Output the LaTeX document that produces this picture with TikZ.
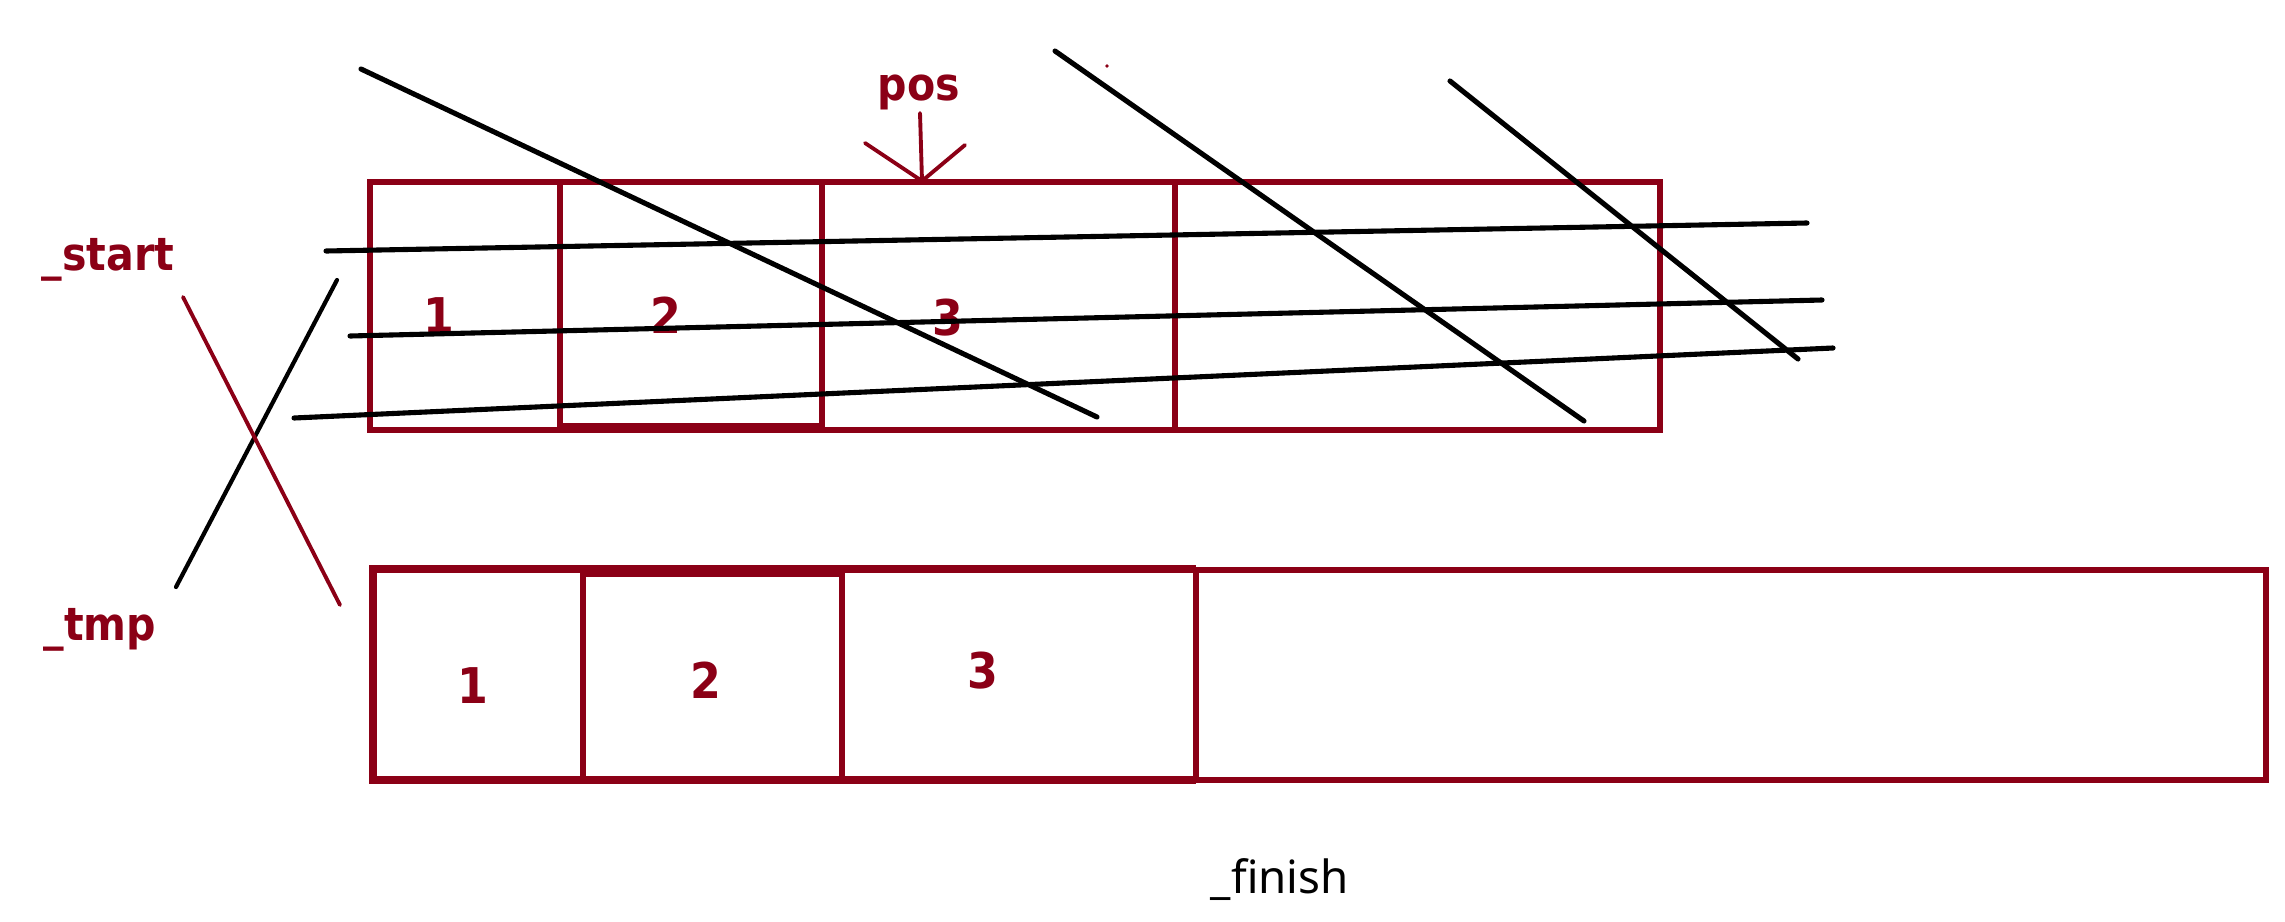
\documentclass[tikz,border=0pt]{standalone}
\usepackage{fontspec}
\setmainfont{Noto Sans}
\newfontfamily\lblfont{DejaVu Sans Condensed}
\definecolor{dred}{RGB}{139,0,22}
\begin{document}
\begin{tikzpicture}[x={(0.01cm,0)}, y={(0,-0.01cm)},
  boxline/.style={draw=dred, line width=1.5pt},
  thickline/.style={draw=dred, line width=2.2pt},
  blk/.style={draw=black, line width=1.45pt, line cap=round},
  thinblk/.style={draw=black, line width=1.2pt, line cap=round},
  redstroke/.style={draw=dred, line width=1.1pt, line cap=round},
  lbl/.style={text=dred, font=\lblfont\bfseries\fontsize{13}{15}\selectfont, inner sep=0pt},
  num/.style={text=dred, font=\lblfont\bfseries\fontsize{14}{16}\selectfont, inner sep=0pt, anchor=base},
  fin/.style={text=black, font=\fontsize{13}{15}\selectfont, inner sep=0pt},
]
\useasboundingbox (0,0) rectangle (2285,921);

% ---- top array ----
\draw[boxline] (370,182) rectangle (1660,430);
\draw[boxline] (560,182) -- (560,430);
\draw[boxline] (822,182) -- (822,430);
\draw[boxline] (1175,182) -- (1175,430);
\draw[thickline] (560,427) -- (822,427);

\node[num] (t1) at (439,333) {1};
\node[num] (t2) at (666,333) {2};
\node[num] (t3) at (948,335) {3};

% ---- bottom array ----
\draw[boxline] (1196,570) rectangle (2266,780);
\draw[thickline] (1196,569) -- (373,569) -- (373,780) -- (1196,780);
\draw[boxline] (583,569) -- (583,780);
\draw[boxline] (842,569) -- (842,780);
\draw[thickline] (583,573) -- (842,573);

\node[num] (b1) at (473,703) {1};
\node[num] (b2) at (706,698) {2};
\node[num] (b3) at (983,688) {3};

% ---- labels ----
\node[lbl, anchor=base west] (start) at (41,270) {\_start};
\node[lbl, anchor=base west] (tmp) at (43,640) {\_tmp};
\node[lbl, anchor=base] (pos) at (919,100) {pos};
\node[fin, anchor=base west] (finish) at (1210,893) {\_finish};

% ---- pos arrow ----
\coordinate (posTail) at (920,113);
\coordinate (posTip) at (922,181);
\coordinate (posL) at (865,143);
\coordinate (posR) at (965,145);
\draw[redstroke] (posTail) -- (posTip);
\draw[redstroke] (posL) -- (posTip) -- (posR);
\fill[dred] (1107,66) circle (1.8);

% ---- crossed-out lines ----
\coordinate (d1a) at (361,69);   \coordinate (d1b) at (1097,417);
\coordinate (d2a) at (1055,51);  \coordinate (d2b) at (1584,421);
\coordinate (d3a) at (1450,81);  \coordinate (d3b) at (1798,359);
\coordinate (h1a) at (326,251);  \coordinate (h1b) at (1807,223);
\coordinate (h2a) at (350,336);  \coordinate (h2b) at (1822,300);
\coordinate (h3a) at (294,418);  \coordinate (h3b) at (1833,348);
\draw[blk] (d1a) -- (d1b);
\draw[blk] (d2a) -- (d2b);
\draw[blk] (d3a) -- (d3b);
\draw[blk] (h1a) -- (h1b);
\draw[blk] (h2a) -- (h2b);
\draw[blk] (h3a) -- (h3b);

% ---- X on the left ----
\coordinate (xka) at (337,280); \coordinate (xkb) at (176,587);
\coordinate (xra) at (183,297); \coordinate (xrb) at (340,605);
\draw[thinblk] (xka) -- (xkb);
\draw[redstroke] (xra) -- (xrb);
\end{tikzpicture}
\end{document}
